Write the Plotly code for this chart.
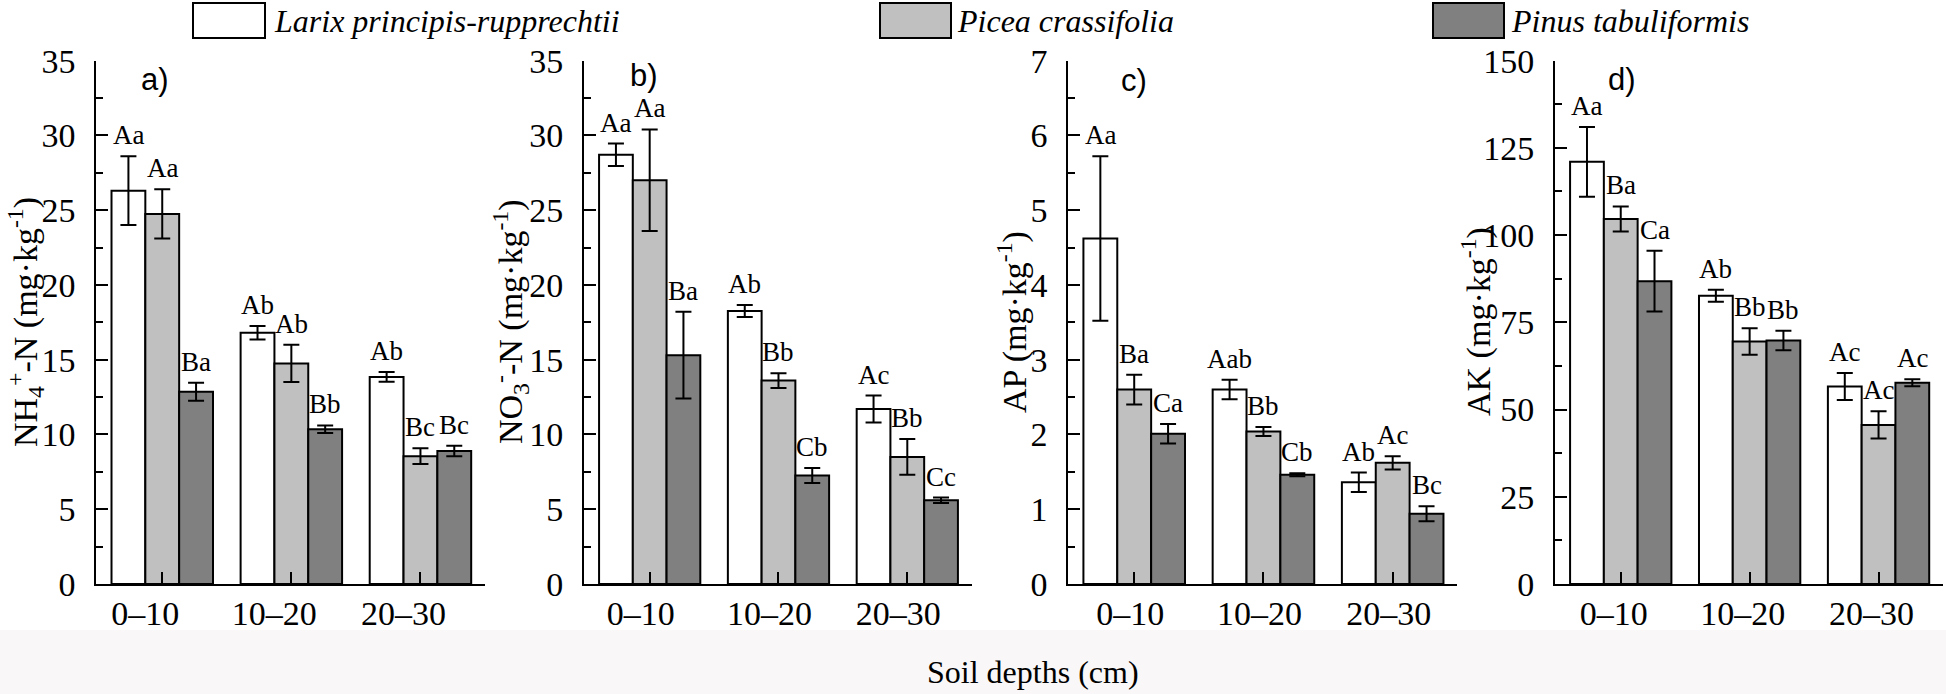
import plotly.graph_objects as go

# ---------------- data ----------------
depths = ["0–10", "10–20", "20–30"]
species = ["Larix principis-rupprechtii", "Picea crassifolia", "Pinus tabuliformis"]

nh4_larix = [26.3, 16.8, 13.85]
nh4_picea = [24.75, 14.75, 8.55]
nh4_pinus = [12.85, 10.35, 8.9]
nh4_larix_se = [2.3, 0.45, 0.33]
nh4_picea_se = [1.65, 1.25, 0.53]
nh4_pinus_se = [0.6, 0.25, 0.35]
nh4_larix_lab = ["Aa", "Ab", "Ab"]
nh4_picea_lab = ["Aa", "Ab", "Bc"]
nh4_pinus_lab = ["Ba", "Bb", "Bc"]

no3_larix = [28.7, 18.25, 11.7]
no3_picea = [27.0, 13.6, 8.5]
no3_pinus = [15.3, 7.25, 5.6]
no3_larix_se = [0.75, 0.4, 0.9]
no3_picea_se = [3.4, 0.5, 1.2]
no3_pinus_se = [2.9, 0.5, 0.18]
no3_larix_lab = ["Aa", "Ab", "Ac"]
no3_picea_lab = ["Aa", "Bb", "Bb"]
no3_pinus_lab = ["Ba", "Cb", "Cc"]

ap_larix = [4.62, 2.6, 1.36]
ap_picea = [2.6, 2.04, 1.62]
ap_pinus = [2.01, 1.46, 0.94]
ap_larix_se = [1.1, 0.13, 0.13]
ap_picea_se = [0.2, 0.06, 0.09]
ap_pinus_se = [0.13, 0.02, 0.1]
ap_larix_lab = ["Aa", "Aab", "Ab"]
ap_picea_lab = ["Ba", "Bb", "Ac"]
ap_pinus_lab = ["Ca", "Cb", "Bc"]

ak_larix = [121.0, 82.6, 56.6]
ak_picea = [104.6, 69.5, 45.6]
ak_pinus = [86.8, 69.8, 57.7]
ak_larix_se = [10.0, 1.7, 3.9]
ak_picea_se = [3.6, 3.8, 3.9]
ak_pinus_se = [8.7, 2.8, 1.0]
ak_larix_lab = ["Aa", "Ab", "Ac"]
ak_picea_lab = ["Ba", "Bb", "Ac"]
ak_pinus_lab = ["Ca", "Bb", "Ac"]

y_titles = [
    "NH<sub>4</sub><sup>+</sup>-N (mg·kg<sup>-1</sup>)",
    "NO<sub>3</sub><sup>-</sup>-N (mg·kg<sup>-1</sup>)",
    "AP (mg·kg<sup>-1</sup>)",
    "AK (mg·kg<sup>-1</sup>)",
]
panel_labels = ["a)", "b)", "c)", "d)"]
x_title = "Soil depths (cm)"

# ---------------- style ----------------
W, H = 1946, 694
colors = ["#ffffff", "#c0c0c0", "#808080"]
SERIF = "Liberation Serif, Times New Roman, serif"
SANS = "Liberation Sans, Arial, sans-serif"
BW = 0.262

panels = [
    dict(means=[nh4_larix, nh4_picea, nh4_pinus], ses=[nh4_larix_se, nh4_picea_se, nh4_pinus_se],
         labs=[nh4_larix_lab, nh4_picea_lab, nh4_pinus_lab], ymax=35, dtick=5,
         dom=(96.4, 485.0), shift=-17, title_x=25, lab_x=155, lab_y=79),
    dict(means=[no3_larix, no3_picea, no3_pinus], ses=[no3_larix_se, no3_picea_se, no3_pinus_se],
         labs=[no3_larix_lab, no3_picea_lab, no3_pinus_lab], ymax=35, dtick=5,
         dom=(584.0, 971.7), shift=-9, title_x=510, lab_x=644, lab_y=75),
    dict(means=[ap_larix, ap_picea, ap_pinus], ses=[ap_larix_se, ap_picea_se, ap_pinus_se],
         labs=[ap_larix_lab, ap_picea_lab, ap_pinus_lab], ymax=7, dtick=1,
         dom=(1068.3, 1457.3), shift=-4, title_x=1012, lab_x=1134, lab_y=80),
    dict(means=[ak_larix, ak_picea, ak_pinus], ses=[ak_larix_se, ak_picea_se, ak_pinus_se],
         labs=[ak_larix_lab, ak_picea_lab, ak_pinus_lab], ymax=150, dtick=25,
         dom=(1555.0, 1943.0), shift=-7, title_x=1476, lab_x=1622, lab_y=79),
]

Y_TOP, Y_BOT = 60.6, 584.0
ydom = [(H - Y_BOT) / H, (H - Y_TOP) / H]

fig = go.Figure()
annotations = []
shapes = []
layout = {}

for p_i, p in enumerate(panels):
    n = p_i + 1
    xa = "x" if n == 1 else f"x{n}"
    ya = "y" if n == 1 else f"y{n}"
    for s in range(3):
        xs = [g + 1 + (s - 1) * BW for g in range(len(depths))]
        fig.add_trace(go.Bar(
            x=xs, y=p["means"][s], width=BW, xaxis=xa, yaxis=ya,
            name=species[s], showlegend=False,
            marker=dict(color=colors[s], line=dict(color="black", width=2)),
            error_y=dict(type="data", array=p["ses"][s], color="black", thickness=2, width=8),
        ))
        for g in range(len(depths)):
            annotations.append(dict(
                x=xs[g], y=p["means"][s][g] + p["ses"][s][g], xref=xa, yref=ya,
                text=p["labs"][s][g], showarrow=False, yanchor="middle", yshift=21,
                font=dict(family=SERIF, size=27, color="black"),
            ))
    x0, x1 = p["dom"]
    layout["xaxis" if n == 1 else f"xaxis{n}"] = dict(
        domain=[x0 / W, x1 / W], anchor=ya, range=[0.49, 3.5], automargin=False,
        tickvals=[1, 2, 3], ticktext=depths, ticks="inside", ticklen=12, tickwidth=2,
        tickcolor="black", showline=True, linecolor="black", linewidth=2,
        showgrid=False, zeroline=False, ticklabelshift=p["shift"], ticklabelstandoff=-2,
        tickfont=dict(family=SERIF, size=34, color="black"),
    )
    layout["yaxis" if n == 1 else f"yaxis{n}"] = dict(
        domain=ydom, anchor=xa, range=[0, p["ymax"]], dtick=p["dtick"], tick0=0,
        automargin=False,
        ticks="inside", ticklen=12, tickwidth=2, tickcolor="black",
        minor=dict(ticks="inside", ticklen=7, tickwidth=2, tickcolor="black", dtick=p["dtick"] / 2),
        showline=True, linecolor="black", linewidth=2, showgrid=False, zeroline=False,
        ticklabelstandoff=12, tickfont=dict(family=SERIF, size=34, color="black"),
    )
    annotations.append(dict(
        x=p["title_x"] / W, y=(H - 322) / H, xref="paper", yref="paper",
        text=y_titles[p_i], textangle=-90, showarrow=False,
        xanchor="center", yanchor="middle",
        font=dict(family=SERIF, size=34, color="black"),
    ))
    annotations.append(dict(
        x=p["lab_x"] / W, y=(H - p["lab_y"]) / H, xref="paper", yref="paper",
        text=panel_labels[p_i], showarrow=False, xanchor="center", yanchor="middle",
        font=dict(family=SANS, size=31, color="black"),
    ))

# legend drawn manually (large boxes)
leg_boxes = [(193, 265), (880, 951), (1433, 1504)]
leg_text_x = [272, 955, 1509]
for s in range(3):
    bx0, bx1 = leg_boxes[s]
    shapes.append(dict(type="rect", xref="paper", yref="paper",
                       x0=bx0 / W, x1=bx1 / W, y0=(H - 38) / H, y1=(H - 3) / H,
                       fillcolor=colors[s], line=dict(color="black", width=2)))
    annotations.append(dict(
        x=leg_text_x[s] / W, y=(H - 21) / H, xref="paper", yref="paper",
        text=f"<i>{species[s]}</i>", showarrow=False, xanchor="left", yanchor="middle",
        font=dict(family=SERIF, size=32, color="black"),
    ))

# bottom band
shapes.append(dict(type="rect", xref="paper", yref="paper", x0=0, x1=1, y0=0, y1=(H - 630) / H,
                   fillcolor="#f9f7f7", line=dict(width=0), layer="below"))

annotations.append(dict(
    x=1033 / W, y=(H - 672) / H, xref="paper", yref="paper", text=x_title,
    showarrow=False, xanchor="center", yanchor="middle",
    font=dict(family=SERIF, size=32, color="black"),
))

fig.update_layout(
    width=W, height=H, margin=dict(l=0, r=0, t=0, b=0, autoexpand=False),
    paper_bgcolor="white", plot_bgcolor="rgba(0,0,0,0)",
    barmode="overlay", showlegend=False,
    annotations=annotations, shapes=shapes, **layout,
)

fig.write_html(
    "out.html",
    config={"displayModeBar": False},
    post_script="document.body.style.margin='0';document.body.style.overflow='hidden';",
)
